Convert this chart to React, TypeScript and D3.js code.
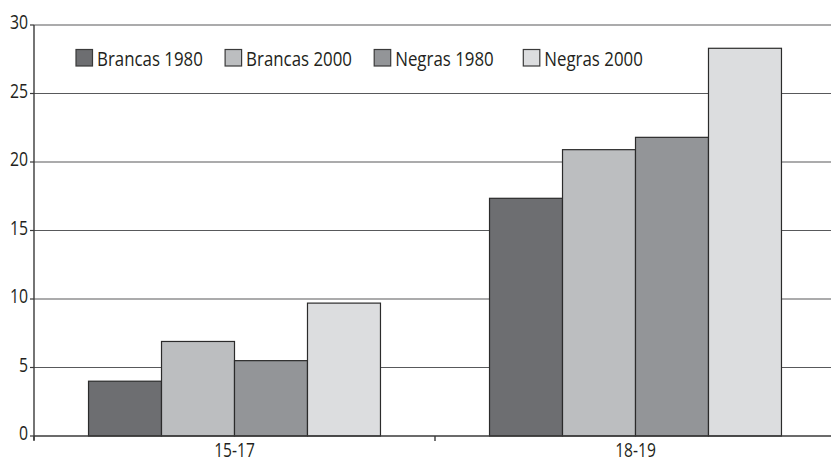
import React from "react";
import * as d3 from "d3";

// Age groups on the x axis
const groups = ["15-17", "18-19"];
// Series shown in each group
const series = ["Brancas 1980", "Brancas 2000", "Negras 1980", "Negras 2000"];
const seriesColors = ["#6d6e71", "#bcbec0", "#939598", "#dcdddf"];
// Values per series, in group order
const brancas1980 = [4.0, 17.35];
const brancas2000 = [6.9, 20.9];
const negras1980 = [5.5, 21.8];
const negras2000 = [9.7, 28.3];
const values = [brancas1980, brancas2000, negras1980, negras2000];
const yTicks = [0, 5, 10, 15, 20, 25, 30];

const W = 831;
const H = 460;
const FONT = "'Open Sans', sans-serif";
const FS = 19.5;

// Condensed-looking label: horizontally squeezed text
function Label(props: {
  x: number;
  y: number;
  sx: number;
  anchor?: "start" | "middle" | "end";
  children: React.ReactNode;
}) {
  return (
    <text
      transform={`translate(${props.x},${props.y}) scale(${props.sx},1)`}
      textAnchor={props.anchor ?? "start"}
      fontSize={FS}
      fill="#231f20"
    >
      {props.children}
    </text>
  );
}

export default function App() {
  const x = d3.scaleBand<string>().domain(groups).range([34, 836]).padding(0);
  const inner = d3
    .scaleBand<string>()
    .domain(series)
    .range([0, x.bandwidth()])
    .paddingInner(0)
    .paddingOuter(0.747);
  const y = d3.scaleLinear().domain([0, 30]).range([436, 25]);

  const legendX = d3.scalePoint<string>().domain(series).range([76, 523.3]);

  return (
    <svg
      width={W}
      height={H}
      style={{ position: "absolute", left: 0, top: 0, background: "#fff" }}
      fontFamily={FONT}
    >
      {/* horizontal gridlines and y ticks */}
      {yTicks.map((t) => (
        <g key={t}>
          {t > 0 && (
            <line x1={34} x2={836} y1={y(t)} y2={y(t)} stroke="#58595b" strokeWidth={1.2} />
          )}
          <line x1={30} x2={34} y1={y(t)} y2={y(t)} stroke="#3a3a3a" strokeWidth={1.2} />
          <Label x={28} y={y(t) + 4} sx={0.81} anchor="end">
            {t}
          </Label>
        </g>
      ))}

      {/* bars */}
      {groups.map((g, gi) => (
        <g key={g} transform={`translate(${x(g)},0)`}>
          {series.map((s, si) => (
            <rect
              key={s}
              x={inner(s)}
              y={y(values[si][gi])}
              width={inner.bandwidth()}
              height={y(0) - y(values[si][gi])}
              fill={seriesColors[si]}
              stroke="#2b2b2b"
              strokeWidth={1.2}
            />
          ))}
        </g>
      ))}

      {/* axes */}
      <line x1={34} x2={34} y1={y(30)} y2={y(0) + 4} stroke="#3a3a3a" strokeWidth={1.4} />
      <line x1={34} x2={836} y1={y(0)} y2={y(0)} stroke="#3a3a3a" strokeWidth={1.4} />
      {[...groups.map((g) => x(g) as number), 836].map((v, i) => (
        <line key={i} x1={v} x2={v} y1={y(0)} y2={y(0) + 5} stroke="#3a3a3a" strokeWidth={1.4} />
      ))}
      {groups.map((g) => (
        <Label key={g} x={(x(g) as number) + x.bandwidth() / 2} y={456.5} sx={0.8} anchor="middle">
          {g}
        </Label>
      ))}

      {/* legend */}
      {series.map((s, si) => (
        <g key={s} transform={`translate(${legendX(s)},49.5)`}>
          <rect width={16.5} height={16.5} fill={seriesColors[si]} stroke="#3a3a3a" strokeWidth={1.2} />
          <Label x={21} y={16.5} sx={0.865}>
            {s}
          </Label>
        </g>
      ))}
    </svg>
  );
}
